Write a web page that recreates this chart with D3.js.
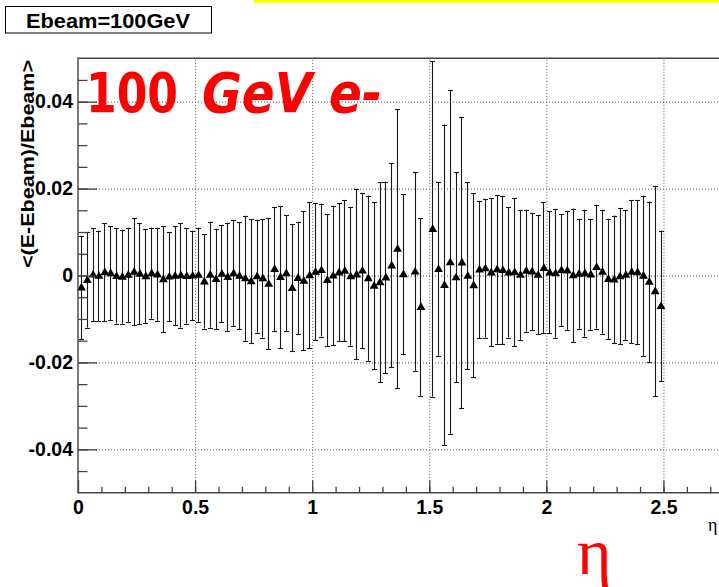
<!DOCTYPE html>
<html>
<head>
<meta charset="utf-8">
<script src="https://cdn.jsdelivr.net/npm/d3@7"></script>
<style>
  html, body { margin: 0; padding: 0; background: #fff; }
  svg { display: block; }
</style>
</head>
<body>
<div class="canvas"></div>
<script>
const WIDTH = 719;
const HEIGHT = 587;

// bin centres in eta (bin width 0.025)
const etaCenters = [
  0.0125, 0.0375, 0.0625, 0.0875, 0.1125, 0.1375, 0.1625, 0.1875, 0.2125, 0.2375,
  0.2625, 0.2875, 0.3125, 0.3375, 0.3625, 0.3875, 0.4125, 0.4375, 0.4625, 0.4875,
  0.5125, 0.5375, 0.5625, 0.5875, 0.6125, 0.6375, 0.6625, 0.6875, 0.7125, 0.7375,
  0.7625, 0.7875, 0.8125, 0.8375, 0.8625, 0.8875, 0.9125, 0.9375, 0.9625, 0.9875,
  1.0125, 1.0375, 1.0625, 1.0875, 1.1125, 1.1375, 1.1625, 1.1875, 1.2125, 1.2375,
  1.2625, 1.2875, 1.3125, 1.3375, 1.3625, 1.3875, 1.4125, 1.4375, 1.4625, 1.4875,
  1.5125, 1.5375, 1.5625, 1.5875, 1.6125, 1.6375, 1.6625, 1.6875, 1.7125, 1.7375,
  1.7625, 1.7875, 1.8125, 1.8375, 1.8625, 1.8875, 1.9125, 1.9375, 1.9625, 1.9875,
  2.0125, 2.0375, 2.0625, 2.0875, 2.1125, 2.1375, 2.1625, 2.1875, 2.2125, 2.2375,
  2.2625, 2.2875, 2.3125, 2.3375, 2.3625, 2.3875, 2.4125, 2.4375, 2.4625, 2.4875
];

// <(E-Ebeam)/Ebeam> per bin (null = empty bin)
const meanVals = [
  -0.00275, -0.00103, 0.00023, -0.00007, 0.00080, 0.00053, -0.00011, -0.00027, 0.00016, 0.00085,
  0.00041, -0.00016, 0.00053, 0.00027, -0.00085, -0.00023, -0.00007, 0.00005, -0.00011, 0.00000,
  0.00016, -0.00137, 0.00018, -0.00080, 0.00041, -0.00034, 0.00053, -0.00005, -0.00064, -0.00131,
  -0.00016, -0.00064, -0.00190, 0.00153, -0.00034, 0.00053, -0.00286, -0.00057, -0.00121, 0.00007,
  0.00085, 0.00126, -0.00103, 0.00000, 0.00073, 0.00110, -0.00018, 0.00027, 0.00115, -0.00062,
  -0.00234, -0.00153, -0.00044, 0.00234, 0.00614, 0.00030, null, 0.00092, -0.00721, null,
  0.01072, 0.00149, -0.00218, 0.00309, -0.00041, 0.00302, -0.00007, -0.00224, 0.00137, 0.00167,
  0.00073, 0.00144, 0.00126, 0.00073, 0.00080, 0.00016, 0.00110, 0.00096, 0.00016, 0.00176,
  0.00073, 0.00053, 0.00126, 0.00119, 0.00007, 0.00041, 0.00053, 0.00027, 0.00199, 0.00087,
  -0.00080, -0.00092, -0.00018, 0.00016, 0.00085, 0.00076, -0.00005, -0.00142, -0.00360, -0.00703
];

// error on the mean per bin
const errVals = [
  0.01190, 0.01095, 0.01070, 0.01037, 0.01127, 0.01076, 0.01095, 0.01081, 0.01083, 0.01230,
  0.01163, 0.01083, 0.01047, 0.01072, 0.01214, 0.01024, 0.01138, 0.01202, 0.01095, 0.01030,
  0.01083, 0.01083, 0.01218, 0.01156, 0.01111, 0.01241, 0.01214, 0.01232, 0.01438, 0.01427,
  0.01298, 0.01363, 0.01505, 0.01427, 0.01637, 0.01328, 0.01461, 0.01294, 0.01596, 0.01679,
  0.01573, 0.01530, 0.01516, 0.01603, 0.01585, 0.01621, 0.01598, 0.01958, 0.01786, 0.01901,
  0.01919, 0.02297, 0.02203, 0.02347, 0.03211, 0.01839, null, 0.02283, 0.02043, null,
  0.03859, 0.01997, 0.03691, 0.03950, 0.02416, 0.03348, 0.02153, 0.02118, 0.01580, 0.01596,
  0.01706, 0.01711, 0.01706, 0.01500, 0.01699, 0.01495, 0.01401, 0.01347, 0.01367, 0.01505,
  0.01401, 0.01482, 0.01287, 0.01369, 0.01534, 0.01264, 0.01459, 0.01278, 0.01420, 0.01424,
  0.01385, 0.01472, 0.01562, 0.01495, 0.01649, 0.01656, 0.01843, 0.01843, 0.02421, 0.01734
];

const xTicks = [0, 0.5, 1, 1.5, 2, 2.5];
const xTickLabels = ['0', '0.5', '1', '1.5', '2', '2.5'];
const yTicks = [-0.04, -0.02, 0, 0.02, 0.04];
const yTickLabels = ['-0.04', '-0.02', '0', '0.02', '0.04'];

const FONT = '"Liberation Sans", Arial, Helvetica, sans-serif';
const AXIS_COLOR = '#444';

const frame = { left: 78, right: 722, top: 58.2, bottom: 492.8 };

const x = d3.scaleLinear().domain([0, 2.75]).range([frame.left, frame.right]);
const y = d3.scaleLinear().domain([-0.05, 0.05]).range([frame.bottom, frame.top]);

const points = etaCenters
  .map((eta, i) => ({ eta, mean: meanVals[i], err: errVals[i] }))
  .filter(d => d.mean !== null);

const svg = d3.select('.canvas')
  .append('svg')
  .attr('width', WIDTH)
  .attr('height', HEIGHT)
  .style('font-family', FONT);

svg.append('rect')
  .attr('width', WIDTH)
  .attr('height', HEIGHT)
  .attr('fill', '#fff');

// yellow strip at the top (slide decoration)
svg.append('rect')
  .attr('x', 254).attr('y', 0)
  .attr('width', WIDTH - 254).attr('height', 3)
  .attr('fill', '#ffff00');

// title box
svg.append('rect')
  .attr('x', 5.5).attr('y', 6.5)
  .attr('width', 206).attr('height', 26.5)
  .attr('fill', '#fff')
  .attr('stroke', '#000')
  .attr('stroke-width', 1);

svg.append('text')
  .attr('x', 108).attr('y', 28)
  .attr('text-anchor', 'middle')
  .attr('font-size', 20)
  .attr('font-weight', 'bold')
  .attr('textLength', 164)
  .attr('lengthAdjust', 'spacingAndGlyphs')
  .text('Ebeam=100GeV');

// dotted grid at the major ticks
const gridStyle = g => g.selectAll('line')
  .attr('stroke', '#555')
  .attr('stroke-width', 1)
  .attr('stroke-dasharray', '1,2');

svg.append('g')
  .attr('transform', `translate(0,${frame.bottom})`)
  .call(d3.axisBottom(x).tickValues(xTicks.filter(v => v > 0))
    .tickSize(-(frame.bottom - frame.top)).tickFormat(''))
  .call(g => g.select('.domain').remove())
  .call(gridStyle);

svg.append('g')
  .attr('transform', `translate(${frame.left},0)`)
  .call(d3.axisLeft(y).tickValues(yTicks)
    .tickSize(-(frame.right - frame.left)).tickFormat(''))
  .call(g => g.select('.domain').remove())
  .call(gridStyle);

// error bars
const bars = svg.append('g')
  .attr('stroke', '#1a1a1a')
  .attr('stroke-width', 1.1);

bars.selectAll('line.err')
  .data(points)
  .join('line')
  .attr('class', 'err')
  .attr('x1', d => Math.round(x(d.eta)) + 0.5)
  .attr('x2', d => Math.round(x(d.eta)) + 0.5)
  .attr('y1', d => y(Math.min(d.mean + d.err, 0.05)))
  .attr('y2', d => y(Math.max(d.mean - d.err, -0.05)));

bars.selectAll('line.capTop')
  .data(points.filter(d => d.mean + d.err < 0.05))
  .join('line')
  .attr('class', 'capTop')
  .attr('x1', d => Math.round(x(d.eta)) - 2)
  .attr('x2', d => Math.round(x(d.eta)) + 3)
  .attr('y1', d => Math.round(y(d.mean + d.err)) + 0.5)
  .attr('y2', d => Math.round(y(d.mean + d.err)) + 0.5);

bars.selectAll('line.capBot')
  .data(points.filter(d => d.mean - d.err > -0.05))
  .join('line')
  .attr('class', 'capBot')
  .attr('x1', d => Math.round(x(d.eta)) - 2)
  .attr('x2', d => Math.round(x(d.eta)) + 3)
  .attr('y1', d => Math.round(y(d.mean - d.err)) + 0.5)
  .attr('y2', d => Math.round(y(d.mean - d.err)) + 0.5);

// triangle markers
const tri = d3.symbol().type(d3.symbolTriangle).size(34);
svg.append('g')
  .selectAll('path')
  .data(points)
  .join('path')
  .attr('d', tri)
  .attr('transform', d => `translate(${x(d.eta) + 0.5},${y(d.mean) + 0.5})`)
  .attr('fill', '#000');

// frame
svg.append('path')
  .attr('d', `M${frame.right},${frame.top}H${frame.left}V${frame.bottom}H${frame.right}`)
  .attr('fill', 'none')
  .attr('stroke', AXIS_COLOR)
  .attr('stroke-width', 1.4);

// x axis: major ticks + labels, minor ticks
const xMinor = d3.range(1, 28).map(i => i / 10);
svg.append('g')
  .attr('transform', `translate(0,${frame.bottom})`)
  .call(d3.axisBottom(x).tickValues(xMinor).tickSize(-6).tickFormat(''))
  .call(g => g.select('.domain').remove())
  .call(g => g.selectAll('line').attr('stroke', AXIS_COLOR).attr('stroke-width', 1.3));

svg.append('g')
  .attr('transform', `translate(0,${frame.bottom})`)
  .call(d3.axisBottom(x).tickValues(xTicks).tickSize(-12.5).tickPadding(7)
    .tickFormat((d, i) => xTickLabels[i]))
  .call(g => g.select('.domain').remove())
  .call(g => g.selectAll('line').attr('stroke', AXIS_COLOR).attr('stroke-width', 1.3))
  .call(g => g.selectAll('text')
    .attr('fill', '#000')
    .attr('font-size', 19.5)
    .attr('font-weight', 'bold')
    .attr('font-family', FONT));

// y axis: major ticks + labels, minor ticks
const yMinor = d3.range(-9, 10).map(i => i * 0.005);
svg.append('g')
  .attr('transform', `translate(${frame.left},0)`)
  .call(d3.axisLeft(y).tickValues(yMinor).tickSize(-9.5).tickFormat(''))
  .call(g => g.select('.domain').remove())
  .call(g => g.selectAll('line').attr('stroke', AXIS_COLOR).attr('stroke-width', 1.3));

svg.append('g')
  .attr('transform', `translate(${frame.left},0)`)
  .call(d3.axisLeft(y).tickValues(yTicks).tickSize(-19).tickPadding(5)
    .tickFormat((d, i) => yTickLabels[i]))
  .call(g => g.select('.domain').remove())
  .call(g => g.selectAll('line').attr('stroke', AXIS_COLOR).attr('stroke-width', 1.3))
  .call(g => g.selectAll('text')
    .attr('fill', '#000')
    .attr('font-size', 19.5)
    .attr('font-weight', 'bold')
    .attr('font-family', FONT));

// axis titles
svg.append('text')
  .attr('transform', 'translate(34,60) rotate(-90)')
  .attr('text-anchor', 'end')
  .attr('font-size', 19)
  .attr('font-weight', 'bold')
  .attr('textLength', 208)
  .attr('lengthAdjust', 'spacingAndGlyphs')
  .text('<(E-Ebeam)/Ebeam>');

svg.append('text')
  .attr('x', 708).attr('y', 531)
  .attr('font-size', 18)
  .attr('font-family', '"Liberation Serif", "DejaVu Serif", serif')
  .text('η');

// red annotations
const NOTE_FONT = '"Comic Sans MS", "DejaVu Sans", sans-serif';
svg.append('text')
  .attr('x', 86).attr('y', 112)
  .attr('fill', '#ff0000')
  .attr('font-size', 55)
  .attr('font-weight', 'bold')
  .attr('font-family', NOTE_FONT)
  .attr('textLength', 92)
  .attr('lengthAdjust', 'spacingAndGlyphs')
  .text('100');

svg.append('text')
  .attr('x', 202).attr('y', 112)
  .attr('fill', '#ff0000')
  .attr('font-size', 55)
  .attr('font-weight', 'bold')
  .attr('font-style', 'italic')
  .attr('font-family', NOTE_FONT)
  .attr('textLength', 180)
  .attr('lengthAdjust', 'spacingAndGlyphs')
  .text('GeV e-');

svg.append('text')
  .attr('x', 577).attr('y', 574)
  .attr('fill', '#ff0000')
  .attr('font-size', 66)
  .attr('font-family', '"Liberation Serif", "DejaVu Serif", serif')
  .text('η');
</script>
</body>
</html>
